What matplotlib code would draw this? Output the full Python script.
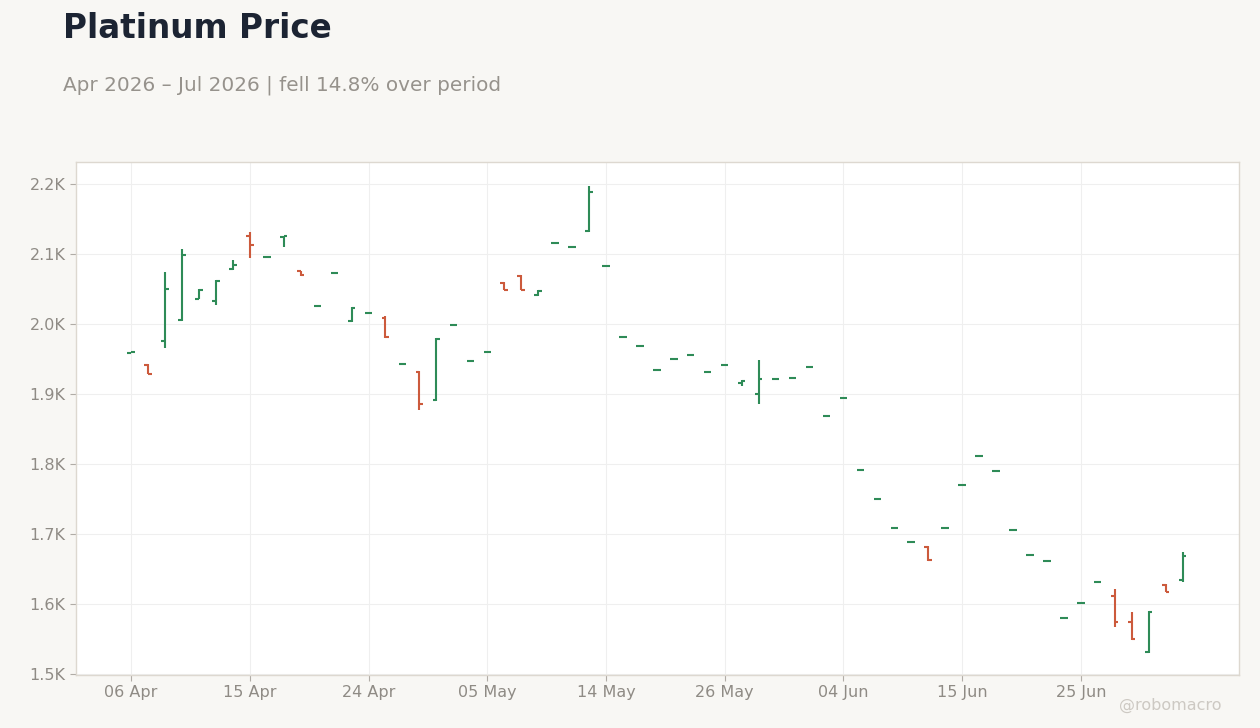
import matplotlib
matplotlib.use("Agg")
import matplotlib.pyplot as plt
import pandas as pd
import numpy as np

# ---- data ----
dates = [d for d in pd.bdate_range("2026-04-06", "2026-07-03")
         if d.strftime("%Y-%m-%d") not in ("2026-05-25", "2026-06-19")]
opens = [1959, 1941, 1975, 2005, 2036, 2033, 2079, 2126, 2095, 2124,
         2075, 2025, 2073, 2004, 2015, 2009, 1943, 1931, 1891, 1998,
         1947, 1960, 2059, 2069, 2041, 2116, 2110, 2133, 2083, 1982,
         1969, 1934, 1950, 1956, 1932, 1942, 1915, 1900, 1921, 1923,
         1938, 1869, 1894, 1792, 1750, 1709, 1689, 1682, 1709, 1770,
         1812, 1790, 1706, 1670, 1661, 1580, 1602, 1632, 1611, 1575,
         1531, 1627, 1634]
highs = [1960, 1943, 2074, 2107, 2050, 2063, 2091, 2131, 2096, 2126,
         2076, 2026, 2074, 2024, 2016, 2011, 1944, 1933, 1980, 1999,
         1948, 1961, 2060, 2070, 2048, 2117, 2111, 2197, 2084, 1983,
         1970, 1935, 1951, 1957, 1933, 1943, 1920, 1949, 1922, 1924,
         1939, 1870, 1895, 1793, 1751, 1710, 1690, 1683, 1710, 1771,
         1813, 1791, 1707, 1671, 1662, 1581, 1603, 1633, 1621, 1588,
         1590, 1628, 1675]
lows = [1958, 1928, 1965, 2004, 2035, 2027, 2077, 2094, 2094, 2110,
        2069, 2024, 2072, 2003, 2014, 1980, 1942, 1877, 1890, 1997,
        1946, 1959, 2048, 2048, 2040, 2115, 2109, 2132, 2082, 1981,
        1968, 1933, 1949, 1955, 1931, 1941, 1912, 1886, 1920, 1922,
        1937, 1868, 1893, 1791, 1749, 1708, 1688, 1662, 1708, 1769,
        1811, 1789, 1705, 1669, 1660, 1579, 1601, 1631, 1567, 1549,
        1530, 1617, 1631]
closes = [1959.5, 1929, 2050, 2098, 2049, 2062, 2084, 2113, 2095, 2125,
          2070, 2025, 2073, 2023, 2015, 1981, 1943, 1886, 1978, 1998,
          1947, 1960, 2049, 2049, 2047, 2116, 2110, 2188, 2083, 1982,
          1969, 1934, 1950, 1956, 1932, 1942, 1919, 1922, 1921, 1923,
          1938, 1869, 1894, 1792, 1750, 1709, 1689, 1663, 1709, 1770,
          1812, 1790, 1706, 1670, 1661, 1580, 1602, 1632, 1575, 1550,
          1589, 1617, 1669]
yticks = [1500, 1600, 1700, 1800, 1900, 2000, 2100, 2200]
ytick_labels = ["1.5K", "1.6K", "1.7K", "1.8K", "1.9K", "2.0K", "2.1K", "2.2K"]

UP = "#2e8b57"
DOWN = "#cc5a3c"
BG = "#f8f7f4"

fig = plt.figure(figsize=(12.6, 7.28), dpi=100, facecolor=BG)
ax = fig.add_axes([76 / 1260, 1 - 675 / 728, (1239 - 76) / 1260, (675 - 162) / 728])
ax.set_facecolor("white")

x = np.arange(len(dates))
o = np.array(opens, float); h = np.array(highs, float)
l = np.array(lows, float); c = np.array(closes, float)
cols = [UP if cc >= oo else DOWN for oo, cc in zip(o, c)]
tw = 0.22
ax.vlines(x, l, h, colors=cols, linewidth=1.5, zorder=3)
ax.hlines(o, x - tw, x, colors=cols, linewidth=1.5, zorder=3)
ax.hlines(c, x, x + tw, colors=cols, linewidth=1.5, zorder=3)

ax.set_xlim(-3.25, 65.33)
ax.set_ylim(1498.6, 2231.4)
ticks = list(range(0, len(dates), 7))
ax.set_xticks(ticks)
ax.set_xticklabels([dates[i].strftime("%d %b") for i in ticks])
ax.set_yticks(yticks)
ax.set_yticklabels(ytick_labels)
ax.grid(True, color="#efefef", linewidth=0.8, zorder=0)
ax.set_axisbelow(True)
for s in ax.spines.values():
    s.set_color("#ddd8d0")
    s.set_linewidth(1.0)
ax.tick_params(axis="both", colors="#b0aca6", labelcolor="#8f8b85",
               labelsize=11.5, length=4, width=0.8)

fig.text(63 / 1260, 1 - 29 / 728, "Platinum Price", fontsize=23.5, fontweight="bold",
         color="#1c2433", va="center", ha="left")
fig.text(63 / 1260, 1 - 85 / 728, "Apr 2026 \u2013 Jul 2026 | fell 14.8% over period",
         fontsize=14.4, color="#96928c", va="center", ha="left")
fig.text(1222 / 1260, 1 - 705 / 728, "@robomacro", fontsize=11.5, color="#cdc9c3",
         va="center", ha="right")

fig.savefig("out.png", dpi=100, facecolor=BG)
